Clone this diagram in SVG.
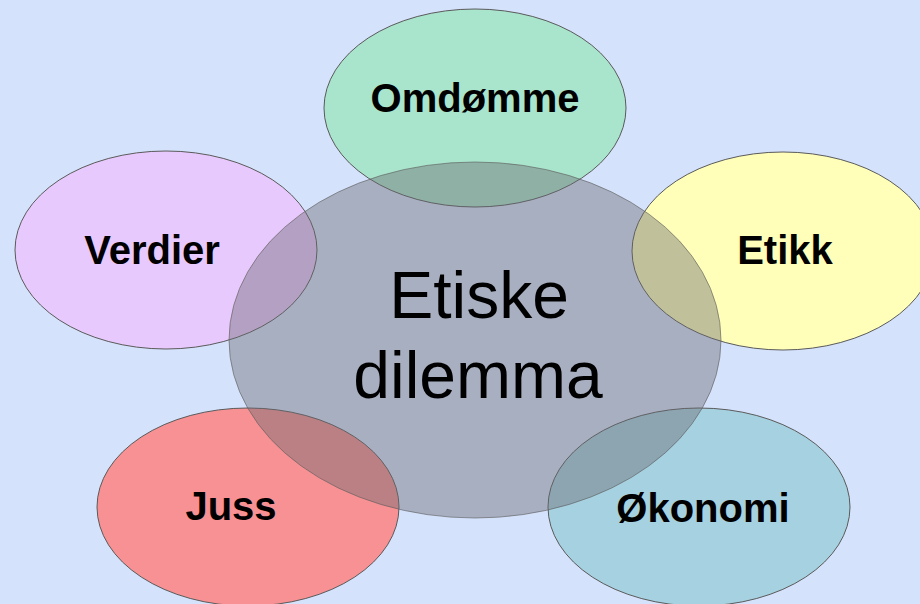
<svg xmlns="http://www.w3.org/2000/svg" width="920" height="604" viewBox="0 0 920 604">
<style>
.sat{stroke:#5a5a5a;stroke-width:1}
.lbl{font-family:"Liberation Sans",Arial,sans-serif;font-weight:bold;font-size:40px;fill:#000;text-anchor:middle}
.ctr{font-family:"Liberation Sans",Arial,sans-serif;font-size:66px;fill:#000;text-anchor:middle}
</style>
<rect width="920" height="604" fill="#d5e2fc"/>
<g id="omdomme"><ellipse class="sat" cx="475" cy="108" rx="151" ry="99" fill="#a9e4cc"/></g>
<g id="etikk"><ellipse class="sat" cx="783" cy="251" rx="151" ry="99" fill="#ffffb9"/></g>
<g id="okonomi"><ellipse class="sat" cx="699" cy="507" rx="151" ry="99" fill="#a6d1e0"/></g>
<g id="juss"><ellipse class="sat" cx="248" cy="507" rx="151" ry="99" fill="#f79193"/></g>
<g id="verdier"><ellipse class="sat" cx="166" cy="250" rx="151" ry="99" fill="#e8c9fd"/></g>
<g id="center"><ellipse cx="475" cy="340" rx="246" ry="178" fill="#6a6a70" fill-opacity="0.42" stroke="#5a5a5a" stroke-opacity="0.6" stroke-width="1"/>
<text class="ctr" x="479" y="318">Etiske</text>
<text class="ctr" x="478" y="398">dilemma</text></g>
<g id="labels">
<text class="lbl" x="475" y="112">Omdømme</text>
<text class="lbl" x="785" y="264">Etikk</text>
<text class="lbl" x="703" y="522">Økonomi</text>
<text class="lbl" x="231" y="520">Juss</text>
<text class="lbl" x="152" y="264">Verdier</text>
</g>
<g id="connectors"/>
</svg>
